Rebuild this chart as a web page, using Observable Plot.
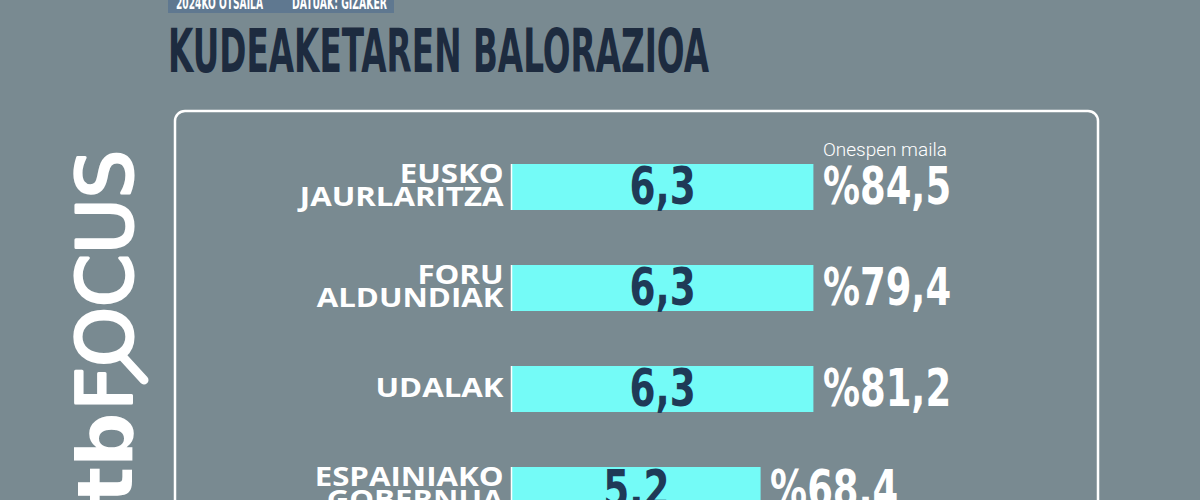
<!DOCTYPE html>
<html>
<head>
<meta charset="utf-8">
<script src="https://cdn.jsdelivr.net/npm/d3@7"></script>
<script src="https://cdn.jsdelivr.net/npm/@observablehq/plot@0.6"></script>
<style>
  html, body { margin: 0; padding: 0; background: #798a91; }
  #chart { width: 1200px; height: 500px; overflow: hidden; }
</style>
</head>
<body>
<div id="chart"></div>
<script>
const categories = ["EUSKO\nJAURLARITZA", "FORU\nALDUNDIAK", "UDALAK", "ESPAINIAKO\nGOBERNUA"];
const scores = [6.3, 6.3, 6.3, 5.2];
const approval = [84.5, 79.4, 81.2, 68.4];
const title = "KUDEAKETAREN BALORAZIOA";
const dateLabel = "2024KO OTSAILA";
const sourceLabel = "DATUAK: GIZAKER";
const approvalHeader = "Onespen maila";

const data = categories.map((name, i) => ({name, score: scores[i], approval: approval[i]}));
const fmt = v => v.toFixed(1).replace(".", ",");
const narrow = "'DejaVu Sans Condensed', 'Liberation Sans Narrow', sans-serif";

const plot = Plot.plot({
  width: 1200,
  height: 500,
  margin: 0,
  style: {background: "transparent", overflow: "visible"},
  x: {domain: [0, 10], range: [511, 991], axis: null},
  y: {type: "band", domain: categories, range: [135.5, 542.3], paddingInner: 0.54, paddingOuter: 0.27, axis: null},
  marks: [
    Plot.barX(data, {x: "score", y: "name", fill: "#74fbf7", inset: 0}),
    Plot.tickX(data, {x: 0, y: "name", stroke: "white", strokeWidth: 1.5}),
    Plot.text(data, {
      x: d => d.score / 2, y: "name", text: d => fmt(d.score),
      fill: "#1f3a57", fontSize: 52, fontWeight: "bold", fontFamily: narrow,
      textAnchor: "middle", lineAnchor: "middle"
    }),
    Plot.text(data, {
      x: "score", y: "name", dx: 9, text: d => "%" + fmt(d.approval),
      fill: "white", fontSize: 52, fontWeight: "bold", fontFamily: narrow,
      textAnchor: "start", lineAnchor: "middle"
    }),
    Plot.text(data, {
      x: 0, y: "name", dx: -8, text: "name",
      fill: "white", fontSize: 26, fontWeight: "bold", fontFamily: "'Open Sans', sans-serif",
      textAnchor: "end", lineAnchor: "middle", lineHeight: 0.88
    }),
    Plot.text([data[0]], {
      x: "score", y: "name", dx: 9, dy: -38, text: () => approvalHeader,
      fill: "white", fontSize: 19, fontWeight: 300, fontFamily: "Roboto, sans-serif",
      textAnchor: "start", lineAnchor: "middle"
    })
  ]
});

const svg = d3.select(plot);
const textGroups = svg.selectAll('g[aria-label="text"]').nodes();

// multi-line labels: widen glyphs around each label's anchor
d3.select(textGroups[2]).selectAll("text").each(function() {
  const t = this.getAttribute("transform") || "";
  this.setAttribute("transform", `${t} scale(1.2,1)`);
});

// decorations drawn underneath marks
const deco = svg.insert("g", ":first-child").attr("text-anchor", "start");
deco.append("rect").attr("x", 175).attr("y", 111).attr("width", 923).attr("height", 430)
  .attr("rx", 10).attr("fill", "none").attr("stroke", "white").attr("stroke-width", 2.5);

// header tag
deco.append("rect").attr("x", 168).attr("y", -6).attr("width", 226).attr("height", 19).attr("fill", "#5f7890");
deco.append("text").attr("x", 176).attr("y", 9).text(dateLabel)
  .attr("fill", "white").attr("font-size", 17).attr("font-weight", "bold").attr("font-family", narrow)
  .attr("textLength", 87).attr("lengthAdjust", "spacingAndGlyphs");
deco.append("text").attr("x", 292).attr("y", 9).text(sourceLabel)
  .attr("fill", "white").attr("font-size", 17).attr("font-weight", "bold").attr("font-family", narrow)
  .attr("textLength", 95).attr("lengthAdjust", "spacingAndGlyphs");

// title
deco.append("text").attr("x", 168).attr("y", 72).text(title)
  .attr("fill", "#1d2b3f").attr("font-size", 60).attr("font-weight", "bold").attr("font-family", narrow)
  .attr("textLength", 541).attr("lengthAdjust", "spacingAndGlyphs");

// vertical logo
const logo = deco.append("text").attr("transform", "translate(132,150) rotate(-90)")
  .attr("text-anchor", "end").attr("fill", "white").attr("font-family", "'DejaVu Sans', sans-serif").attr("font-size", 76);
logo.append("tspan").attr("font-weight", "bold").text("tb");
logo.append("tspan").attr("font-weight", "normal").attr("dx", 2)
  .attr("stroke", "white").attr("stroke-width", 3).attr("stroke-linejoin", "round").text("FOCUS");
deco.append("line").attr("x1", 122).attr("y1", 356).attr("x2", 144).attr("y2", 380)
  .attr("stroke", "white").attr("stroke-width", 9).attr("stroke-linecap", "round");

document.getElementById("chart").appendChild(plot);

// condense single-line numbers: shrink their rendered length in place
function condense(group, k) {
  d3.select(group).selectAll("text").each(function() {
    const w = this.getComputedTextLength();
    if (w > 0) {
      this.setAttribute("textLength", w * k);
      this.setAttribute("lengthAdjust", "spacingAndGlyphs");
    }
  });
}
condense(textGroups[0], 0.8);
condense(textGroups[1], 0.79);
</script>
</body>
</html>
